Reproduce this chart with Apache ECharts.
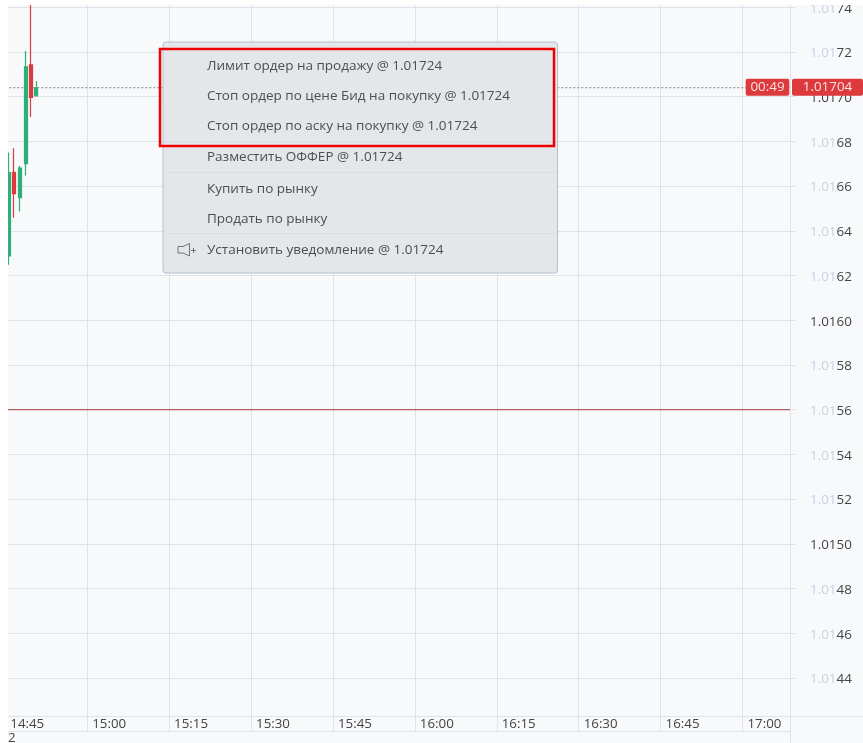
<!DOCTYPE html>
<html>
<head>
<meta charset="utf-8"/>
<title>ECharts</title>
<script src="https://cdn.jsdelivr.net/npm/echarts@6/dist/echarts.min.js"></script>
<style>
  html, body { margin: 0; padding: 0; background: #f7f9fb; }
  #chart { width: 863px; height: 743px; }
</style>
</head>
<body>
<div id="chart"></div>
<script type="text/javascript">
// minutes since midnight
const candleTimes = [885.6, 886.6, 887.7, 888.7, 889.7, 890.7];
const opens  = [1.016288, 1.016662, 1.016548, 1.016700, 1.017142, 1.017004];
const closes = [1.016660, 1.016566, 1.016681, 1.017133, 1.016997, 1.017040];
const lows   = [1.016248, 1.016459, 1.016486, 1.016647, 1.016909, 1.017004];
const highs  = [1.016750, 1.016769, 1.016690, 1.017204, 1.017500, 1.017070];

const timeTicks = [885, 900, 915, 930, 945, 960, 975, 990, 1005, 1020];
const timeLabels = ['14:45', '15:00', '15:15', '15:30', '15:45', '16:00', '16:15', '16:30', '16:45', '17:00'];
const priceTicks = [1.0144, 1.0146, 1.0148, 1.0150, 1.0152, 1.0154, 1.0156, 1.0158, 1.0160,
  1.0162, 1.0164, 1.0166, 1.0168, 1.0170, 1.0172, 1.0174];
const lastPrice = 1.01704;
const levelPrice = 1.0156;
const countdown = '00:49';

const menuItems = [
  'Лимит ордер на продажу @ 1.01724',
  'Стоп ордер по цене Бид на покупку @ 1.01724',
  'Стоп ордер по аску на покупку @ 1.01724',
  'Разместить ОФФЕР @ 1.01724',
  'Купить по рынку',
  'Продать по рынку',
  'Установить уведомление @ 1.01724'
];
const menuTextY = [66, 96, 126, 157.5, 189, 219, 250];
const menuSeparatorY = [141, 172, 233];

const FONT = '"Open Sans", "Noto Sans", sans-serif';
const GRID_COLOR = '#dfe3e9';
const TEXT_COLOR = '#444444';
const GREEN = '#2fae78';
const RED = '#dd3a3e';
const X_MIN = 885;
const X_MAX = 1028.7;

let chart = echarts.init(document.getElementById('chart'), null, {renderer: 'canvas'});

function chromeLine(x1, y1, x2, y2, color, z, width) {
  return {
    type: 'line',
    z: z || 50,
    silent: true,
    shape: {x1: x1, y1: y1, x2: x2, y2: y2},
    style: {stroke: color || GRID_COLOR, lineWidth: width || 1}
  };
}

function buildMenu() {
  let items = [];
  items.push({
    type: 'rect', z: 60, silent: true,
    shape: {x: 163, y: 42, width: 394.5, height: 231, r: 3},
    style: {fill: '#e4e7ea', stroke: '#b4c0cc', lineWidth: 1}
  });
  menuSeparatorY.forEach((y) => {
    items.push(chromeLine(164, y + 0.5, 557, y + 0.5, '#dadee3', 61, 1));
  });
  menuItems.forEach((label, i) => {
    items.push({
      type: 'text', z: 62, silent: true,
      style: {
        x: 207, y: menuTextY[i], text: label,
        fill: '#4a4f55', font: '13.5px ' + FONT,
        textAlign: 'left', textVerticalAlign: 'middle'
      }
    });
  });
  // speaker icon
  items.push({
    type: 'polygon', z: 62, silent: true,
    shape: {points: [[178, 246.5], [183, 246.5], [189.5, 243.5], [189.5, 256], [183, 253], [178, 253]]},
    style: {fill: 'none', stroke: '#6f757b', lineWidth: 1}
  });
  items.push(chromeLine(191, 250.5, 196, 250.5, '#6f757b', 62, 1));
  items.push(chromeLine(193.5, 248, 193.5, 253, '#6f757b', 62, 1));
  // red highlight box
  items.push({
    type: 'rect', z: 70, silent: true,
    shape: {x: 160, y: 49, width: 394, height: 97},
    style: {fill: 'none', stroke: '#f00000', lineWidth: 2.5}
  });
  return items;
}

function priceTag(x, y, width, text) {
  return [
    {
      type: 'rect', z: 45, silent: true,
      shape: {x: x, y: y - 9, width: width, height: 17, r: 2},
      style: {fill: RED}
    },
    {
      type: 'text', z: 46, silent: true,
      style: {
        x: x + width / 2, y: y - 0.5, text: text,
        fill: '#fbe3e3', font: '13.4px ' + FONT,
        textAlign: 'center', textVerticalAlign: 'middle'
      }
    }
  ];
}

chart.setOption({
  animation: false,
  backgroundColor: '#f7f9fb',
  textStyle: {fontFamily: FONT},
  grid: {left: 5.3, right: 73, top: 5, bottom: 27},
  xAxis: {
    type: 'value',
    min: X_MIN,
    max: X_MAX,
    axisLine: {show: true, lineStyle: {color: GRID_COLOR}},
    axisTick: {show: true, length: 15, customValues: timeTicks, lineStyle: {color: GRID_COLOR}},
    splitLine: {show: true, lineStyle: {color: GRID_COLOR}},
    axisLabel: {
      customValues: timeTicks,
      formatter: (v) => timeLabels[timeTicks.indexOf(v)],
      align: 'left',
      margin: 2,
      padding: [0, 0, 0, 5],
      color: TEXT_COLOR,
      fontSize: 13.3,
      fontFamily: FONT
    }
  },
  yAxis: {
    type: 'value',
    position: 'right',
    min: 1.01423,
    max: 1.01741,
    axisLine: {show: false},
    axisTick: {show: true, length: 6, customValues: priceTicks, lineStyle: {color: GRID_COLOR}},
    splitLine: {show: true, lineStyle: {color: GRID_COLOR}},
    axisLabel: {
      customValues: priceTicks,
      margin: 20,
      align: 'left',
      padding: [3, 0, 0, 0],
      formatter: (v) => {
        let s = v.toFixed(4);
        // round figures are printed all dark
        if (s.endsWith('0')) {
          return '{b|' + s + '}';
        }
        return '{a|' + s.slice(0, 4) + '}{b|' + s.slice(4) + '}';
      },
      rich: {
        a: {color: '#c5d3e4', fontSize: 13.4, fontFamily: FONT},
        b: {color: TEXT_COLOR, fontSize: 13.4, fontFamily: FONT}
      }
    }
  },
  series: [
    {
      name: 'level',
      type: 'line',
      z: 2,
      silent: true,
      showSymbol: false,
      lineStyle: {color: '#b5605f', width: 1.2},
      data: [[X_MIN, levelPrice], [X_MAX, levelPrice]]
    },
    {
      name: 'last',
      type: 'line',
      z: 2,
      silent: true,
      showSymbol: false,
      lineStyle: {color: '#7f858c', width: 1, type: [2, 2]},
      data: [[X_MIN, lastPrice], [X_MAX, lastPrice]]
    },
    {
      type: 'candlestick',
      z: 3,
      encode: {x: 0, y: [1, 2, 3, 4]},
      barWidth: 3.5,
      data: candleTimes.map((t, i) => [t, opens[i], closes[i], lows[i], highs[i]]),
      itemStyle: {color: GREEN, color0: RED, borderColor: GREEN, borderColor0: RED, borderWidth: 1.2}
    }
  ]
});

// tags follow the last price through the axis scale
let lastY = chart.convertToPixel({yAxisIndex: 0}, lastPrice);

chart.setOption({
  graphic: {
    elements: [
      // page edges outside the chart widget
      {type: 'rect', z: 40, silent: true, shape: {x: 0, y: 0, width: 8, height: 743}, style: {fill: '#ffffff'}},
      {type: 'rect', z: 40, silent: true, shape: {x: 0, y: 0, width: 863, height: 5}, style: {fill: '#ffffff'}},
      chromeLine(790.5, 5, 790.5, 743),
      chromeLine(790, 716.5, 863, 716.5),
      chromeLine(8, 731.5, 790, 731.5),
      {
        type: 'text', z: 50, silent: true,
        style: {x: 8, y: 738, text: '2', fill: TEXT_COLOR, font: '13.3px ' + FONT, textAlign: 'left', textVerticalAlign: 'middle'}
      }
    ].concat(priceTag(745.7, lastY, 43.6, countdown), priceTag(792, lastY, 71, lastPrice.toFixed(5)), buildMenu())
  }
});
</script>
</body>
</html>
